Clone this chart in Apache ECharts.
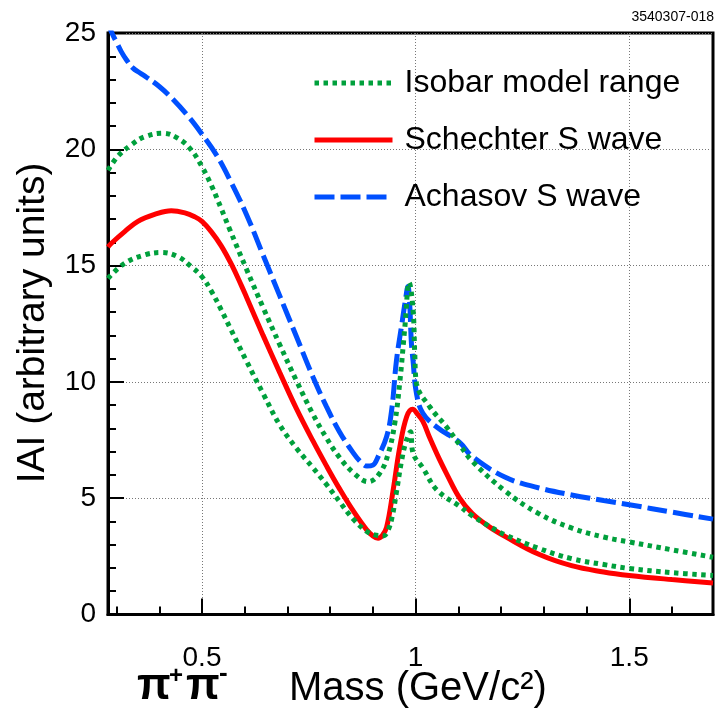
<!DOCTYPE html>
<html>
<head>
<meta charset="utf-8">
<script src="https://cdn.jsdelivr.net/npm/echarts@6/dist/echarts.min.js"></script>
<style>
html,body{margin:0;padding:0;background:#fff;}
#chart{width:717px;height:708px;}
</style>
</head>
<body>
<div id="chart"></div>
<script>
// ---- data ----
const xMajorTicks = [0.5, 1, 1.5];
const xMinorTicks = [0.3, 0.4, 0.6, 0.7, 0.8, 0.9, 1.1, 1.2, 1.3, 1.4, 1.6];

const legendNames = ['Isobar model range', 'Schechter S wave', 'Achasov S wave'];

const achasovMass = [0.28, 0.288, 0.30, 0.311, 0.323, 0.338, 0.355, 0.37, 0.40, 0.432, 0.471, 0.50, 0.534, 0.565, 0.604, 0.643, 0.682, 0.721, 0.76, 0.791, 0.822, 0.854, 0.872, 0.886, 0.90, 0.912, 0.932, 0.944, 0.955, 0.967, 0.976, 0.982, 0.986, 0.99, 0.994, 1.002, 1.017, 1.05, 1.103, 1.132, 1.21, 1.287, 1.365, 1.44, 1.5, 1.6, 1.696];
const achasovVal  = [25.5, 25.05, 24.6, 24.2, 23.85, 23.5, 23.28, 23.1, 22.7, 22.15, 21.35, 20.65, 19.75, 18.7, 17.2, 15.45, 13.7, 11.95, 10.2, 8.95, 7.85, 6.95, 6.55, 6.38, 6.42, 6.78, 7.64, 8.8, 10.9, 12.4, 13.5, 14.1, 13.4, 11.7, 10.9, 9.5, 8.65, 8.05, 7.4, 6.8, 5.9, 5.45, 5.14, 4.9, 4.72, 4.4, 4.1];

const schechterMass = [0.28, 0.288, 0.319, 0.35, 0.389, 0.428, 0.46, 0.483, 0.50, 0.522, 0.545, 0.569, 0.592, 0.604, 0.643, 0.682, 0.721, 0.76, 0.791, 0.822, 0.854, 0.885, 0.90, 0.912, 0.922, 0.932, 0.947, 0.963, 0.979, 0.993, 1.005, 1.017, 1.033, 1.055, 1.072, 1.103, 1.132, 1.17, 1.21, 1.287, 1.365, 1.44, 1.5, 1.6, 1.696];
const schechterVal  = [15.8, 15.96, 16.46, 16.9, 17.2, 17.36, 17.27, 17.1, 16.9, 16.45, 15.85, 15.05, 14.15, 13.65, 12.0, 10.4, 8.85, 7.45, 6.4, 5.4, 4.45, 3.65, 3.38, 3.28, 3.4, 3.75, 5.3, 7.2, 8.5, 8.82, 8.6, 8.3, 7.6, 6.7, 6.07, 5.0, 4.35, 3.8, 3.35, 2.6, 2.1, 1.83, 1.68, 1.5, 1.35];

const isobarHighMass = [0.28, 0.303, 0.335, 0.366, 0.409, 0.444, 0.475, 0.50, 0.522, 0.545, 0.565, 0.604, 0.643, 0.682, 0.721, 0.76, 0.791, 0.822, 0.854, 0.889, 0.916, 0.936, 0.951, 0.963, 0.975, 0.985, 0.994, 0.998, 1.002, 1.033, 1.072, 1.103, 1.132, 1.21, 1.287, 1.365, 1.44, 1.5, 1.6, 1.696];
const isobarHighVal  = [19.1, 19.7, 20.2, 20.54, 20.69, 20.47, 19.97, 19.25, 18.45, 17.45, 16.55, 14.85, 13.2, 11.6, 10.05, 8.6, 7.6, 6.75, 6.1, 5.71, 6.07, 6.93, 8.2, 10.0, 12.4, 14.27, 13.1, 11.2, 9.94, 8.93, 8.07, 7.3, 6.6, 5.3, 4.35, 3.72, 3.33, 3.12, 2.78, 2.46];

const isobarLowMass = [0.28, 0.319, 0.366, 0.405, 0.444, 0.475, 0.50, 0.522, 0.545, 0.565, 0.604, 0.643, 0.682, 0.721, 0.76, 0.791, 0.822, 0.854, 0.885, 0.905, 0.924, 0.935, 0.945, 0.955, 0.967, 0.977, 0.988, 0.994, 1.017, 1.05, 1.103, 1.132, 1.17, 1.21, 1.287, 1.365, 1.44, 1.5, 1.6, 1.696];
const isobarLowVal  = [14.45, 15.1, 15.46, 15.56, 15.38, 14.95, 14.52, 13.9, 13.1, 12.35, 10.9, 9.5, 8.15, 7.15, 6.3, 5.6, 4.85, 4.1, 3.58, 3.42, 3.38, 3.6, 4.2, 5.25, 6.6, 7.4, 7.86, 6.93, 6.3, 5.35, 4.65, 4.25, 3.82, 3.42, 2.85, 2.4, 2.15, 1.98, 1.8, 1.68];

// ---- build ----
function pairs(xs, ys) { return xs.map((x, i) => [x, ys[i]]); }

const GREEN = '#00a03c', RED = '#ff0000', BLUE = '#0050ff';
const FONT = '"Liberation Sans", Arial, Helvetica, sans-serif';

const chart = echarts.init(document.getElementById('chart'), null, {renderer: 'canvas'});

const commonLine = { type: 'line', showSymbol: false, symbol: 'none', smooth: 0.4, clip: true, animation: false };

chart.setOption({
  backgroundColor: '#fff',
  animation: false,
  grid: { left: 108, right: 4, top: 33, bottom: 93.5, show: true, borderColor: '#000', borderWidth: 3, backgroundColor: 'transparent' },
  legend: {
    orient: 'vertical', left: 307, top: 60,
    itemWidth: 78, itemHeight: 14, itemGap: 21,
    data: legendNames,
    itemStyle: { opacity: 0, borderWidth: 0 },
    lineStyle: { width: 5 },
    textStyle: { fontSize: 32, fontFamily: FONT, color: '#000', lineHeight: 36, padding: [0, 0, 0, 7] }
  },
  xAxis: [
    {
      type: 'value', min: 0.28, max: 1.696,
      axisLine: { show: true, onZero: false, lineStyle: { color: '#000', width: 3 } },
      axisTick: { show: true, inside: true, length: 16, customValues: xMajorTicks, lineStyle: { color: '#000', width: 2 } },
      axisLabel: { show: true, customValues: xMajorTicks, fontSize: 28, fontFamily: FONT, color: '#000', margin: 30 },
      splitLine: { show: true, lineStyle: { color: '#777', width: 1, type: [1, 2] } }
    },
    {
      type: 'value', min: 0.28, max: 1.696, position: 'bottom',
      axisLine: { show: false },
      axisTick: { show: true, inside: true, length: 8, customValues: xMinorTicks, lineStyle: { color: '#000', width: 2 } },
      axisLabel: { show: false },
      splitLine: { show: false }
    }
  ],
  yAxis: {
    type: 'value', min: 0, max: 25, interval: 5,
    axisLine: { show: true, onZero: false, lineStyle: { color: '#000', width: 3 } },
    axisTick: { show: true, inside: true, length: 16, lineStyle: { color: '#000', width: 2 } },
    minorTick: { show: true, splitNumber: 5, length: 8, lineStyle: { color: '#000', width: 2 } },
    axisLabel: { fontSize: 28, fontFamily: FONT, color: '#000', margin: 12 },
    splitLine: { show: true, lineStyle: { color: '#777', width: 1, type: [1, 2] } }
  },
  series: [
    Object.assign({}, commonLine, { name: 'Schechter S wave', data: pairs(schechterMass, schechterVal), z: 3,
      lineStyle: { color: RED, width: 5, type: 'solid' }, itemStyle: { color: RED } }),
    Object.assign({}, commonLine, { name: 'Achasov S wave', data: pairs(achasovMass, achasovVal), z: 4,
      lineStyle: { color: BLUE, width: 5, type: [20, 6], cap: 'butt' }, itemStyle: { color: BLUE } }),
    Object.assign({}, commonLine, { name: 'Isobar model range', data: pairs(isobarHighMass, isobarHighVal), z: 5,
      lineStyle: { color: GREEN, width: 5, type: [4.5, 4.5], cap: 'butt' }, itemStyle: { color: GREEN } }),
    Object.assign({}, commonLine, { name: 'Isobar model range', data: pairs(isobarLowMass, isobarLowVal), z: 5,
      lineStyle: { color: GREEN, width: 5, type: [4.5, 4.5], cap: 'butt' }, itemStyle: { color: GREEN } })
  ],
  graphic: [
    { type: 'text', x: 33, y: 323, rotation: Math.PI / 2,
      style: { text: 'IAI (arbitrary units)', font: '39px ' + FONT, fill: '#000', align: 'center', verticalAlign: 'middle' } },
    { type: 'text', x: 289, y: 689,
      style: { text: 'Mass (GeV/c\u00B2)', font: '40px ' + FONT, fill: '#000', align: 'left', verticalAlign: 'middle' } },
    { type: 'text', x: 137, y: 709,
      style: { text: '\u03C0', font: 'bold 44px ' + FONT, fill: '#000', align: 'left', verticalAlign: 'bottom' } },
    { type: 'text', x: 169, y: 676,
      style: { text: '+', font: 'bold 24px ' + FONT, fill: '#000', align: 'left', verticalAlign: 'middle' } },
    { type: 'text', x: 186, y: 709,
      style: { text: '\u03C0', font: 'bold 44px ' + FONT, fill: '#000', align: 'left', verticalAlign: 'bottom' } },
    { type: 'text', x: 219, y: 674,
      style: { text: '-', font: 'bold 26px ' + FONT, fill: '#000', align: 'left', verticalAlign: 'middle' } },
    { type: 'text', x: 714, y: 17,
      style: { text: '3540307-018', font: '14px ' + FONT, fill: '#000', align: 'right', verticalAlign: 'middle' } }
  ]
});
</script>
</body>
</html>
